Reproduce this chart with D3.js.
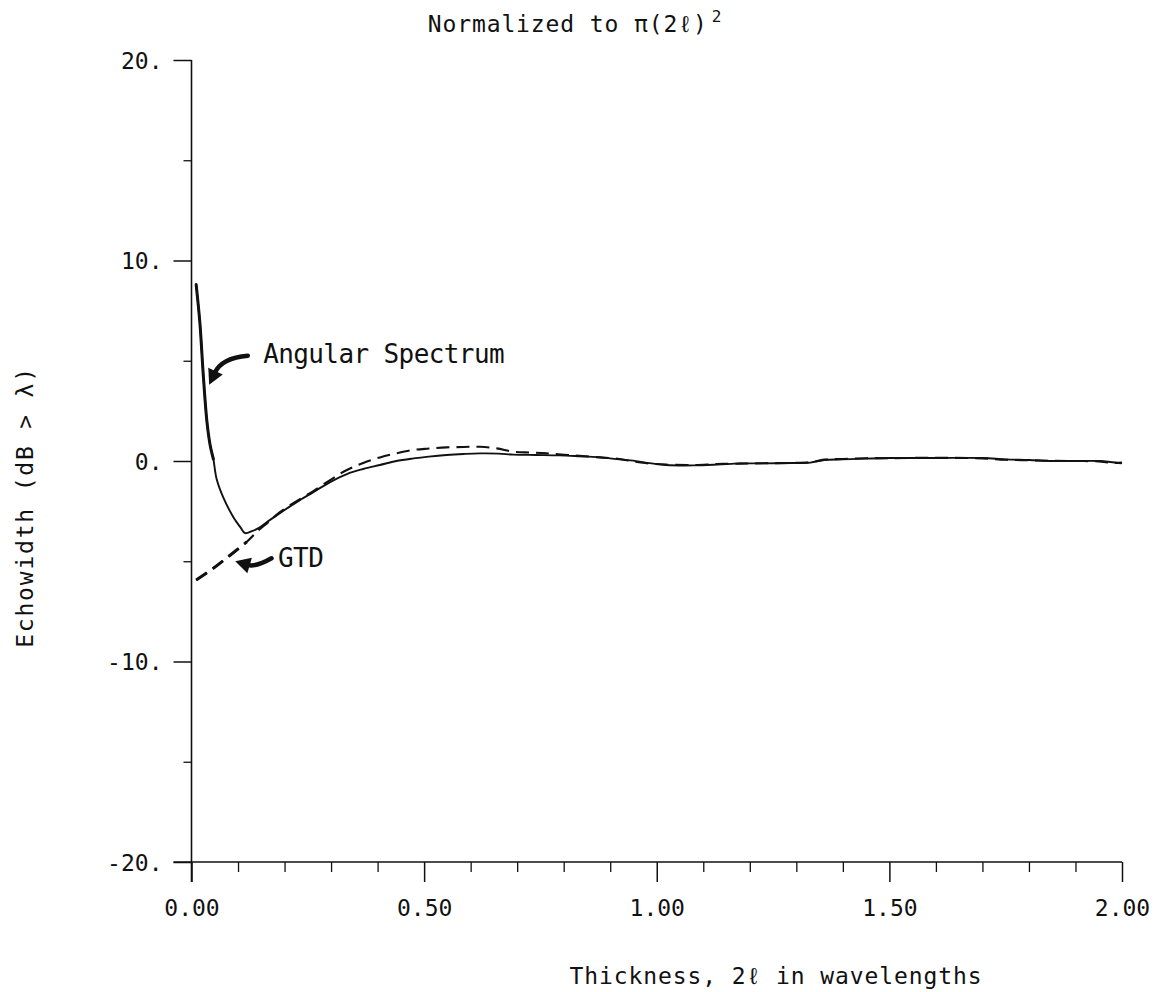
<!DOCTYPE html>
<html>
<head>
<meta charset="utf-8">
<script src="https://cdn.jsdelivr.net/npm/d3@7"></script>
<style>
  html, body { margin: 0; padding: 0; background: #fff; }
  svg { display: block; }
  text { font-family: "DejaVu Sans Mono", "Liberation Mono", monospace; fill: #111; }
</style>
</head>
<body>
<svg id="chart" width="1155" height="992"></svg>
<script>
// ---- Data ----
const angularX = [0.010, 0.018, 0.025, 0.033, 0.040, 0.047, 0.054, 0.068, 0.090, 0.105, 0.115, 0.130, 0.144, 0.165, 0.190, 0.226, 0.262, 0.298, 0.334, 0.369, 0.405, 0.440, 0.477, 0.510, 0.548, 0.585, 0.620, 0.660, 0.692, 0.740, 0.790, 0.830, 0.878, 0.920, 0.950, 0.975, 1.020, 1.080, 1.130, 1.180, 1.230, 1.290, 1.330, 1.360, 1.400, 1.450, 1.500, 1.600, 1.700, 1.750, 1.800, 1.850, 1.900, 1.950, 1.975, 2.000];
const angularY = [8.8, 6.9, 4.4, 2.0, 0.8, 0.1, -0.9, -1.8, -2.8, -3.3, -3.6, -3.5, -3.35, -3.0, -2.6, -2.05, -1.55, -1.05, -0.65, -0.4, -0.2, 0.0, 0.13, 0.22, 0.3, 0.35, 0.38, 0.37, 0.32, 0.3, 0.28, 0.24, 0.18, 0.08, 0.02, -0.08, -0.2, -0.22, -0.18, -0.12, -0.12, -0.1, -0.08, 0.05, 0.08, 0.12, 0.15, 0.15, 0.15, 0.08, 0.05, 0.0, 0.0, 0.0, -0.05, -0.12];

const gtdX = [0.010, 0.047, 0.083, 0.119, 0.144, 0.165, 0.190, 0.226, 0.262, 0.298, 0.334, 0.369, 0.405, 0.440, 0.477, 0.510, 0.548, 0.585, 0.620, 0.656, 0.692, 0.730, 0.763, 0.820, 0.878, 0.920, 0.945, 0.975, 1.020, 1.080, 1.130, 1.180, 1.230, 1.290, 1.330, 1.360, 1.400, 1.450, 1.500, 1.600, 1.700, 1.750, 1.800, 1.850, 1.900, 1.950, 1.980, 2.000];
const gtdY = [-5.94, -5.35, -4.7, -4.03, -3.45, -3.05, -2.55, -2.0, -1.5, -0.95, -0.45, -0.1, 0.18, 0.38, 0.55, 0.62, 0.68, 0.7, 0.71, 0.63, 0.46, 0.42, 0.38, 0.28, 0.18, 0.1, 0.0, -0.1, -0.18, -0.2, -0.15, -0.13, -0.11, -0.1, -0.06, 0.07, 0.1, 0.14, 0.14, 0.16, 0.13, 0.06, 0.04, 0.01, 0.0, -0.02, -0.1, -0.08];

const yMajorTicks = [-20, -10, 0, 10, 20];
const yMinorTicks = [-15, -5, 5, 15];
const yTickLabels = ["-20.", "-10.", "0.", "10.", "20."];
const xMajorTicks = [0, 0.5, 1.0, 1.5, 2.0];
const xMinorTicks = [0.1, 0.2, 0.3, 0.4, 0.6, 0.7, 0.8, 0.9, 1.1, 1.2, 1.3, 1.4, 1.6, 1.7, 1.8, 1.9];
const xTickLabels = ["0.00", "0.50", "1.00", "1.50", "2.00"];

const titleText = "Normalized to \u03C0(2\u2113)";
const titleSup = "2";
const xLabel = "Thickness, 2\u2113 in wavelengths";
const yLabel = "Echowidth (dB > \u03BB)";
const annotAngular = "Angular Spectrum";
const annotGTD = "GTD";

// ---- Scales ----
const svg = d3.select("#chart");
const x = d3.scaleLinear().domain([0, 2]).range([191.5, 1122]);
const y = d3.scaleLinear().domain([-20, 20]).range([862, 60]);

const ink = "#111";

// ---- Axes ----
const yAxisMajor = d3.axisLeft(y).tickValues(yMajorTicks).tickSize(18)
  .tickFormat((d, i) => yTickLabels[i]).tickPadding(10);
const gy = svg.append("g").attr("transform", `translate(${x(0)},0)`).call(yAxisMajor);
gy.select(".domain").remove();
gy.selectAll(".tick line").attr("stroke", ink).attr("stroke-width", 1.5);
gy.selectAll(".tick text").attr("font-size", 23).attr("dy", "0.36em")
  .attr("x", -29).style("font-family", '"DejaVu Sans Mono", monospace').attr("fill", ink);

const yAxisMinor = d3.axisLeft(y).tickValues(yMinorTicks).tickSize(8).tickFormat("");
const gym = svg.append("g").attr("transform", `translate(${x(0)},0)`).call(yAxisMinor);
gym.select(".domain").remove();
gym.selectAll(".tick line").attr("stroke", ink).attr("stroke-width", 1.3);

const xAxisMajor = d3.axisBottom(x).tickValues(xMajorTicks).tickSize(20)
  .tickFormat((d, i) => xTickLabels[i]);
const gx = svg.append("g").attr("transform", `translate(0,${y(-20)})`).call(xAxisMajor);
gx.select(".domain").remove();
gx.selectAll(".tick line").attr("stroke", ink).attr("stroke-width", 1.5);
gx.selectAll(".tick text").attr("font-size", 23).attr("y", 54).attr("dy", 0)
  .style("font-family", '"DejaVu Sans Mono", monospace').attr("fill", ink);

const xAxisMinor = d3.axisBottom(x).tickValues(xMinorTicks).tickSize(10).tickFormat("");
const gxm = svg.append("g").attr("transform", `translate(0,${y(-20)})`).call(xAxisMinor);
gxm.select(".domain").remove();
gxm.selectAll(".tick line").attr("stroke", ink).attr("stroke-width", 1.3);

// axis lines
svg.append("line").attr("x1", x(0)).attr("x2", x(0)).attr("y1", y(20)).attr("y2", y(-20) + 20)
  .attr("stroke", ink).attr("stroke-width", 1.6);
svg.append("line").attr("x1", x(0) - 18).attr("x2", x(2)).attr("y1", y(-20)).attr("y2", y(-20))
  .attr("stroke", ink).attr("stroke-width", 1.6);

// ---- Curves ----
const line = d3.line().x(d => x(d[0])).y(d => y(d[1])).curve(d3.curveCatmullRom.alpha(0.5));
const angularData = angularX.map((v, i) => [v, angularY[i]]);
const gtdData = gtdX.map((v, i) => [v, gtdY[i]]);

svg.append("path").datum(gtdData).attr("d", line)
  .attr("fill", "none").attr("stroke", ink).attr("stroke-width", 2.1)
  .attr("stroke-dasharray", "13,7");
// heavier leading dashes of GTD near the origin
svg.append("path").datum(gtdData.filter(d => d[0] <= 0.12)).attr("d", line)
  .attr("fill", "none").attr("stroke", ink).attr("stroke-width", 3)
  .attr("stroke-dasharray", "13,7");
svg.append("path").datum(angularData).attr("d", line)
  .attr("fill", "none").attr("stroke", ink).attr("stroke-width", 1.9);
// heavier steep leading part of the angular-spectrum curve
svg.append("path").datum(angularData.filter(d => d[0] <= 0.05)).attr("d", line)
  .attr("fill", "none").attr("stroke", ink).attr("stroke-width", 3).attr("stroke-linecap", "round");

// ---- Annotations (arrows anchored in data coordinates) ----
function arrow(tail, tip, ctrlOff) {
  const t = [x(tail[0]), y(tail[1])];
  const p = [x(tip[0]), y(tip[1])];
  const c = [t[0] + ctrlOff[0], t[1] + ctrlOff[1]];
  let dx = p[0] - c[0], dy = p[1] - c[1];
  const L = Math.hypot(dx, dy); dx /= L; dy /= L;
  const headLen = 15, headW = 8;
  const base = [p[0] - dx * headLen, p[1] - dy * headLen];
  const nx = -dy, ny = dx;
  const path = d3.path();
  path.moveTo(t[0], t[1]);
  path.quadraticCurveTo(c[0], c[1], base[0] + dx * 2, base[1] + dy * 2);
  svg.append("path").attr("d", path.toString()).attr("fill", "none")
    .attr("stroke", ink).attr("stroke-width", 4.5).attr("stroke-linecap", "round");
  svg.append("polygon")
    .attr("points", [[p[0], p[1]], [base[0] + nx * headW, base[1] + ny * headW], [base[0] - nx * headW, base[1] - ny * headW]].map(q => q.join(",")).join(" "))
    .attr("fill", ink);
}
arrow([0.121, 5.25], [0.038, 3.8], [-26, 2]);
arrow([0.172, -4.85], [0.094, -5.0], [-16, 9]);

svg.append("text").attr("x", x(0.154)).attr("y", y(4.89))
  .attr("font-size", 26).attr("letter-spacing", -0.6).text(annotAngular);
svg.append("text").attr("x", x(0.186)).attr("y", y(-5.29))
  .attr("font-size", 26).attr("letter-spacing", -0.6).text(annotGTD);

// ---- Titles ----
const title = svg.append("text").attr("x", 575).attr("y", 32).attr("text-anchor", "middle")
  .attr("font-size", 23).attr("letter-spacing", 0.9);
title.append("tspan").text(titleText);
title.append("tspan").attr("font-size", 16).attr("dy", -10).attr("dx", 4).text(titleSup);

svg.append("text").attr("x", 776).attr("y", 984).attr("text-anchor", "middle")
  .attr("font-size", 23).attr("letter-spacing", 0.9).text(xLabel);

svg.append("text").attr("transform", "translate(33,507) rotate(-90)")
  .attr("text-anchor", "middle").attr("font-size", 23).attr("letter-spacing", 1.8).text(yLabel);
</script>
</body>
</html>
